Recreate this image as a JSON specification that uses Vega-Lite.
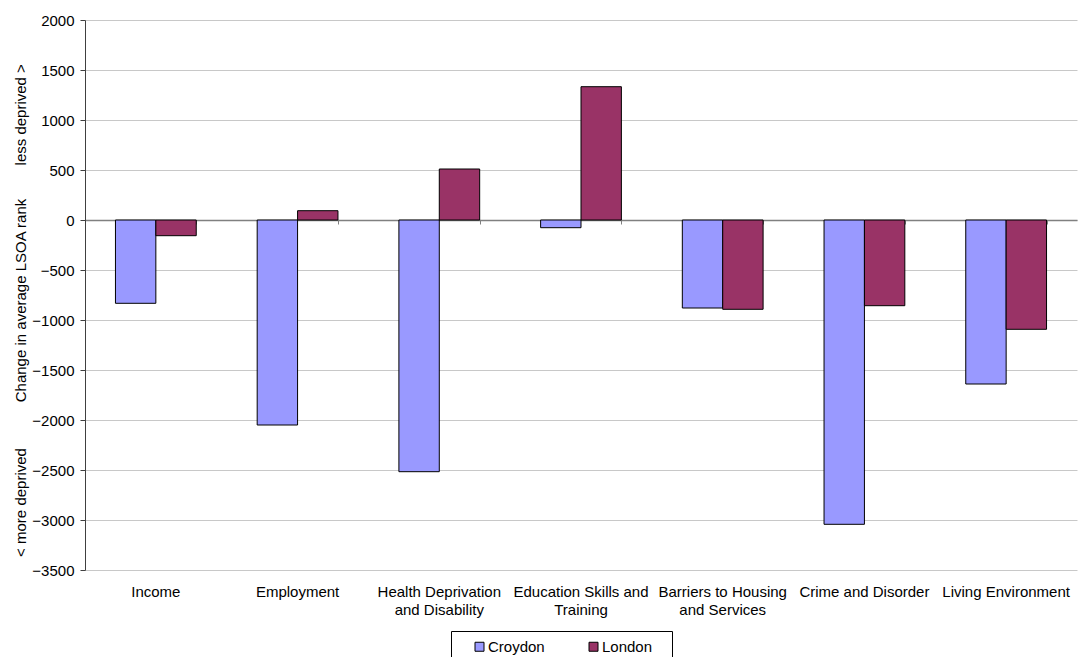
{
  "$schema": "https://vega.github.io/schema/vega-lite/v6.json",
  "autosize": {"type": "none"},
  "width": 992,
  "height": 550,
  "padding": {"left": 85, "top": 20, "right": 1, "bottom": 87},
  "background": "white",
  "config": {
    "font": "Liberation Sans",
    "view": {"stroke": null},
    "axis": {"labelFont": "Liberation Sans", "titleFont": "Liberation Sans", "labelColor": "#000", "titleColor": "#000"}
  },
  "data": {
    "values": [
      {"domain": "Income", "area": "Croydon", "change": -833},
      {"domain": "Income", "area": "London", "change": -157},
      {"domain": "Employment", "area": "Croydon", "change": -2050},
      {"domain": "Employment", "area": "London", "change": 93},
      {"domain": "Health Deprivation\nand Disability", "area": "Croydon", "change": -2517},
      {"domain": "Health Deprivation\nand Disability", "area": "London", "change": 510},
      {"domain": "Education Skills and\nTraining", "area": "Croydon", "change": -77},
      {"domain": "Education Skills and\nTraining", "area": "London", "change": 1333},
      {"domain": "Barriers to Housing\nand Services", "area": "Croydon", "change": -880},
      {"domain": "Barriers to Housing\nand Services", "area": "London", "change": -893},
      {"domain": "Crime and Disorder", "area": "Croydon", "change": -3043},
      {"domain": "Crime and Disorder", "area": "London", "change": -857},
      {"domain": "Living Environment", "area": "Croydon", "change": -1640},
      {"domain": "Living Environment", "area": "London", "change": -1093}
    ]
  },
  "layer": [
    {
      "mark": {"type": "bar", "stroke": "#000", "strokeWidth": 1},
      "encoding": {
        "x": {
          "field": "domain", "type": "nominal", "sort": null,
          "scale": {"paddingInner": 0.43, "paddingOuter": 0.215},
          "axis": {
            "orient": "bottom", "title": null, "labelAngle": 0, "ticks": false, "domain": false,
            "labelFontSize": 15, "labelPadding": 14, "labelLineHeight": 18,
            "labelExpr": "split(datum.label, '\\n')", "labelLimit": 200
          }
        },
        "xOffset": {"field": "area", "type": "nominal"},
        "y": {
          "field": "change", "type": "quantitative",
          "scale": {"domain": [-3500, 2000], "nice": false},
          "axis": {
            "values": [-3500, -3000, -2500, -2000, -1500, -1000, -500, 0, 500, 1000, 1500, 2000],
            "format": "d",
            "labelFontSize": 15, "labelPadding": 6, "tickSize": 5, "tickColor": "#404040",
            "domainColor": "#404040", "gridColor": "#c8c8c8", "grid": true,
            "title": "< more deprived\u00a0\u00a0\u00a0\u00a0\u00a0\u00a0\u00a0\u00a0\u00a0\u00a0\u00a0Change in average LSOA rank\u00a0\u00a0\u00a0\u00a0\u00a0\u00a0\u00a0\u00a0less deprived >",
            "titleFontSize": 15, "titleFontWeight": "normal",
            "titleAngle": -90, "titleX": -65, "titleY": 290, "titleAlign": "center", "titleBaseline": "middle"
          }
        },
        "color": {
          "field": "area", "type": "nominal",
          "scale": {"domain": ["Croydon", "London"], "range": ["#9999FF", "#993366"]},
          "legend": {
            "title": null, "orient": "none", "direction": "horizontal",
            "legendX": 366, "legendY": 611,
            "strokeColor": "#000", "fillColor": "#fff", "padding": 8,
            "symbolType": "square", "symbolSize": 81, "symbolStrokeColor": "#000", "symbolStrokeWidth": 1,
            "symbolOffset": 13, "labelOffset": 1,
            "labelFontSize": 15, "labelColor": "#000", "columnPadding": 28,
            "labelExpr": "datum.label == 'London' ? datum.label + '\u2800' : datum.label"
          }
        }
      }
    },
    {
      "mark": {"type": "point", "opacity": 0},
      "encoding": {
        "x": {
          "field": "domain", "type": "nominal", "sort": null,
          "axis": {
            "orient": "bottom", "offset": -350, "title": null, "labels": false,
            "tickBand": "extent", "tickSize": 4, "tickColor": "#808080",
            "domainColor": "#808080", "domainWidth": 1.5, "grid": false
          }
        },
        "y": {"datum": 0}
      }
    }
  ],
  "resolve": {"axis": {"x": "independent"}}
}
